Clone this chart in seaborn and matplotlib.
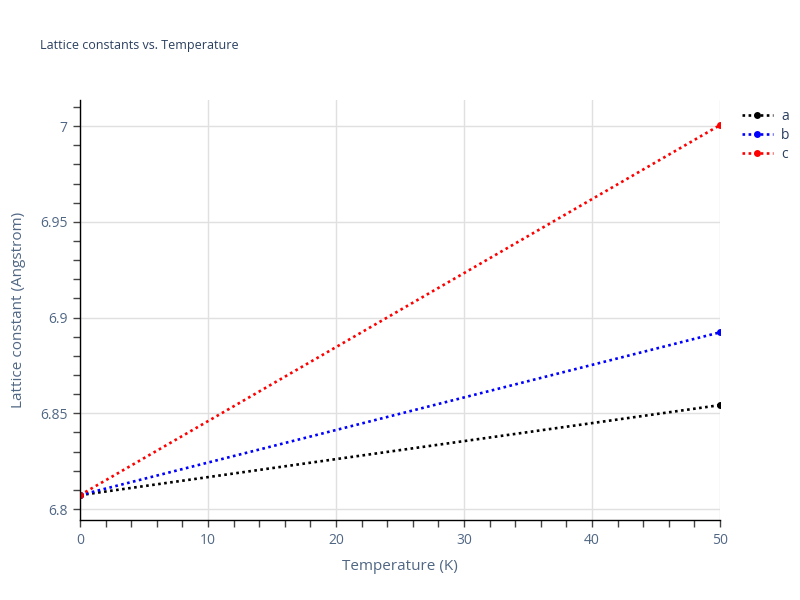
import numpy as np
import pandas as pd
import matplotlib
matplotlib.use("Agg")
import matplotlib.pyplot as plt
import seaborn as sns
from matplotlib.ticker import MultipleLocator, FuncFormatter
from matplotlib.lines import Line2D

temperature = [0, 50]
a_vals = [6.8073, 6.8543]
b_vals = [6.8073, 6.8923]
c_vals = [6.8073, 7.0005]
series = ["a", "b", "c"]
colors = ["black", "blue", "red"]

df = pd.DataFrame({
    "Temperature (K)": temperature * 3,
    "Lattice constant (Angstrom)": a_vals + b_vals + c_vals,
    "series": [s for s in series for _ in temperature],
})

sns.set_style("white")
plt.rcParams["font.family"] = ["Open Sans", "DejaVu Sans"]

fig = plt.figure(figsize=(8, 6), dpi=100)
ax = fig.add_axes([0.1, 0.1333, 0.8, 0.7])

ls = (0, (1, 1.3))
sns.lineplot(data=df, x="Temperature (K)", y="Lattice constant (Angstrom)",
             hue="series", palette=dict(zip(series, colors)), marker="o",
             markersize=5, markeredgewidth=0, linestyle=ls, linewidth=1.9,
             ax=ax, legend=False)

ax.set_xlim(0, 50)
ax.set_ylim(6.7943, 7.0136)
ax.xaxis.set_major_locator(MultipleLocator(10))
ax.xaxis.set_minor_locator(MultipleLocator(2))
ax.yaxis.set_major_locator(MultipleLocator(0.05))
ax.yaxis.set_minor_locator(MultipleLocator(0.01))
ax.yaxis.set_major_formatter(FuncFormatter(lambda v, p: f"{v:g}"))
ax.grid(True, which="major", color="#e0e0e0", linewidth=1)
ax.set_axisbelow(True)
for s in ["top", "right"]:
    ax.spines[s].set_visible(False)
for s in ["left", "bottom"]:
    ax.spines[s].set_color("black")
    ax.spines[s].set_linewidth(1)
ax.tick_params(which="major", direction="out", length=5, width=1, color="#444",
               labelsize=10, labelcolor="#506784", pad=4)
ax.tick_params(which="minor", direction="out", length=5, width=1, color="#444")
ax.tick_params(axis="x", which="both", bottom=True)
ax.tick_params(axis="y", which="both", left=True)
ax.set_xlabel("Temperature (K)", fontsize=11, color="#506784", labelpad=8)
ax.set_ylabel("Lattice constant (Angstrom)", fontsize=11, color="#506784", labelpad=10)

fig.text(0.05, 0.925, "Lattice constants vs. Temperature", fontsize=9, color="#2a3f5f",
         va="center", ha="left")

handles = [Line2D([0], [0], color=c, linestyle=ls, linewidth=1.9, marker="o",
                  markersize=5, markeredgewidth=0) for c in colors]
leg = fig.legend(handles, series, loc="upper left", bbox_to_anchor=(0.912, 0.84),
                 frameon=False, fontsize=10, handlelength=2.2, labelspacing=0.3,
                 handletextpad=0.6)
for t in leg.get_texts():
    t.set_color("#2a3f5f")

fig.savefig("out.png", dpi=100)
